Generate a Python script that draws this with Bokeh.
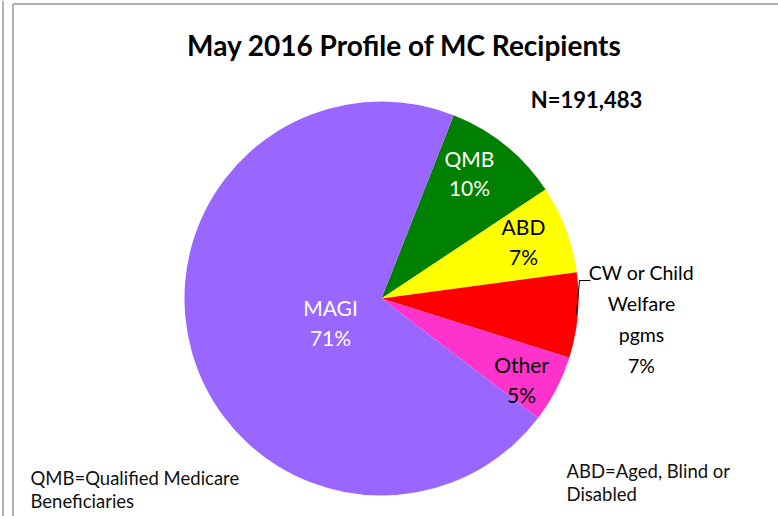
import numpy as np
from bokeh.plotting import figure
from bokeh.models import Range1d, Label, ColumnDataSource
from bokeh.embed import file_html
from bokeh.resources import INLINE

# ---- data ----
categories = ["QMB", "ABD", "CW or Child Welfare pgms", "Other", "MAGI"]
shares = [9.7, 7.2, 7.0, 5.5, 70.6]
pct_labels = ["10%", "7%", "7%", "5%", "71%"]
total_n = "N=191,483"

# ---- style ----
colors = ["#008000", "#FFFF00", "#FF0000", "#FF33CC", "#9966FF"]
FONT = "Lato"
W, H = 778, 516

p = figure(width=W, height=H, output_backend="svg", toolbar_location=None,
           x_range=Range1d(0, W), y_range=Range1d(0, H), min_border=0)
p.axis.visible = False
p.grid.visible = False
p.outline_line_color = None
p.background_fill_color = "white"
p.border_fill_color = "white"

def Y(py):
    # convert a page pixel row to the data y coordinate
    return H - py

# frame lines
p.segment(x0=[2.5, 12.5, 12.5], y0=[Y(H), Y(H), Y(3.5)],
          x1=[2.5, 12.5, W], y1=[Y(0), Y(3.5), Y(3.5)],
          line_color="#9a9a9a", line_width=1.5)

# pie
cx, cy, r = 381, Y(298), 197
a0 = np.radians(90 - 21.5)
fr = np.array(shares) / sum(shares)
cum = np.cumsum(fr)
start = a0 - 2 * np.pi * (cum - fr)
end = a0 - 2 * np.pi * cum
src = ColumnDataSource(dict(cat=categories, start=start, end=end, color=colors))
p.wedge(x=cx, y=cy, radius=r, start_angle="start", end_angle="end",
        direction="clock", fill_color="color", line_color=None, source=src)

def lab(text, x, py, size, color="black", align="center", bold=False):
    p.add_layout(Label(x=x, y=Y(py), text=text, text_font=FONT,
                       text_font_size=f"{size}px", text_color=color,
                       text_align=align, text_baseline="middle",
                       text_font_style="bold" if bold else "normal"))

lab("May 2016 Profile of MC Recipients", 404, 44, 28, bold=True)
lab(total_n, 586, 99, 22, bold=True)

# slice labels
FS = 21
lab(categories[0], 469, 158, FS, "white")
lab(pct_labels[0], 469, 187, FS, "white")
lab(categories[1], 523, 226, FS)
lab(pct_labels[1], 523, 256, FS)
for i, t in enumerate(["CW or Child", "Welfare", "pgms", pct_labels[2]]):
    lab(t, 641, 272 + i * 31, 19.5)
lab(categories[3], 521, 364, FS)
lab(pct_labels[3], 521, 394, FS)
lab(categories[4], 330, 307, FS, "white")
lab(pct_labels[4], 330, 337, FS, "white")

# leader line
p.line(x=[576, 579, 590], y=[Y(314), Y(280), Y(280)], line_color="black", line_width=1)

# footnotes
lab("QMB=Qualified Medicare", 30, 477, 18.5, "#111111", align="left")
lab("Beneficiaries", 30, 500, 18.5, "#111111", align="left")
lab("ABD=Aged, Blind or", 566, 470, 18.5, "#111111", align="left")
lab("Disabled", 566, 493, 18.5, "#111111", align="left")

open("out.html", "w").write(file_html(p, INLINE))
